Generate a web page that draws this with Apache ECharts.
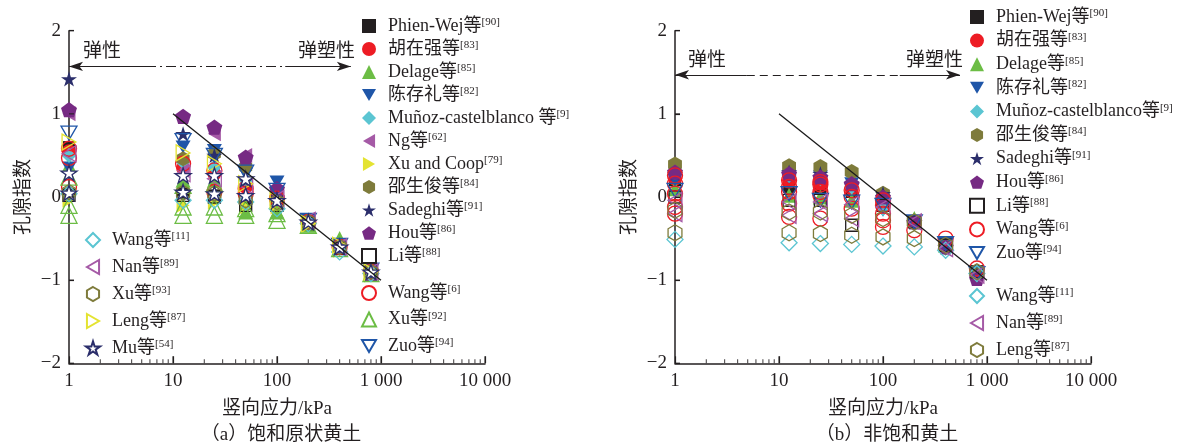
<!DOCTYPE html>
<html><head><meta charset="utf-8">
<script src="https://cdn.jsdelivr.net/npm/echarts@6/dist/echarts.min.js"></script>
<style>html,body{margin:0;padding:0;background:#fff}#c{width:1188px;height:444px}</style>
</head><body><div id="c"></div><script>
// ---------- data: panel (a) 饱和原状黄土 ----------
const phienA = [[1,0.6],[12.5,0.05],[25,0.02],[50,-0.08],[100,-0.08],[200,-0.32],[400,-0.62],[800,-0.92]];
const huA = [[1,0.55],[12.5,0.35],[25,0.28],[50,0.12],[100,-0.02],[200,-0.3],[400,-0.6],[800,-0.9]];
const delageA = [[1,0.38],[12.5,0.2],[25,0.2],[50,-0.18],[100,-0.18],[200,-0.34],[400,-0.5],[800,-0.9]];
const chenA = [[1,0.35],[12.5,0.6],[25,0.56],[50,0.28],[100,0.18],[200,-0.28],[400,-0.58],[800,-0.88]];
const munozA = [[1,0.5],[12.5,0.42],[25,0.36],[50,0.2],[100,0.0],[200,-0.3],[400,-0.62],[800,-0.9]];
const ngA = [[1,1.0],[12.5,0.32],[25,0.76],[50,0.5],[100,0.06],[200,-0.3],[400,-0.58],[800,-0.92]];
const xuCoopA = [[1,-0.04],[12.5,-0.1],[25,-0.06],[50,-0.12],[100,-0.12],[200,-0.34],[400,-0.64],[800,-0.94]];
const shaoA = [[1,0.05],[12.5,0.46],[25,0.52],[50,0.36],[100,0.05],[200,-0.3],[400,-0.6],[800,-0.9]];
const sadeghiA = [[1,1.42],[12.5,0.76],[25,0.5],[50,0.2],[100,0.0],[200,-0.3],[400,-0.6],[800,-0.9]];
const houA = [[1,1.05],[12.5,0.97],[25,0.84],[50,0.48],[100,0.1],[200,-0.3],[400,-0.6],[800,-0.92]];
const liA = [[1,0.02],[12.5,0.02],[25,0.0],[50,-0.1],[100,-0.1],[200,-0.32],[400,-0.62],[800,-0.9]];
const wang6A = [[1,0.58],[1,0.47],[1,0.12],[12.5,0.4],[25,0.32],[25,0.06],[50,0.1],[50,0.04],[100,-0.02],[200,-0.3],[400,-0.6],[800,-0.9]];
const xu92A = [[1,0.24],[1,-0.1],[1,-0.22],[12.5,0.14],[12.5,-0.12],[12.5,-0.22],[25,0.16],[25,-0.12],[25,-0.22],[50,-0.14],[50,-0.22],[100,-0.2],[100,-0.28],[200,-0.34],[400,-0.62],[800,-0.92]];
const zuoA = [[1,0.77],[12.5,0.68],[25,0.5],[50,0.3],[100,0.08],[200,-0.28],[400,-0.58],[800,-0.88]];
const wang11A = [[1,0.04],[12.5,-0.04],[25,-0.04],[50,-0.06],[100,-0.14],[200,-0.32],[400,-0.66],[800,-0.92]];
const nanA = [[1,0.52],[12.5,0.28],[25,0.22],[50,0.14],[100,-0.02],[200,-0.28],[400,-0.6],[800,-0.9]];
const xu93A = [[1,0.06],[12.5,0.05],[25,0.04],[50,-0.04],[100,-0.06],[200,-0.3],[400,-0.6],[800,-0.9]];
const lengA = [[1,0.66],[12.5,0.53],[25,0.4],[50,0.16],[100,-0.04],[200,-0.32],[400,-0.58],[800,-0.9]];
const muA = [[1,0.29],[1,0.05],[12.5,0.26],[12.5,0.06],[25,0.26],[25,0.04],[50,0.22],[50,0.02],[100,-0.04],[200,-0.3],[400,-0.6],[800,-0.9]];

// ---------- data: panel (b) 非饱和黄土 ----------
const phienB = [[1,0.2],[12.5,0.12],[25,0.1],[50,0.06],[100,-0.06],[200,-0.3],[400,-0.6],[800,-0.92]];
const huB = [[1,0.22],[12.5,0.2],[25,0.16],[50,0.1],[100,-0.04],[200,-0.3],[400,-0.6],[800,-0.9]];
const delageB = [[1,0.1],[12.5,0.02],[25,0.0],[50,-0.04],[100,-0.08],[200,-0.26],[400,-0.58],[800,-0.9]];
const chenB = [[1,0.2],[12.5,0.24],[25,0.24],[50,0.16],[100,-0.16],[200,-0.3],[400,-0.56],[800,-0.9]];
const munozB = [[1,0.3],[12.5,0.26],[25,0.22],[50,0.12],[100,-0.14],[200,-0.32],[400,-0.62],[800,-0.94]];
const shaoB = [[1,0.39],[12.5,0.37],[25,0.36],[50,0.3],[100,0.04],[200,-0.3],[400,-0.6],[800,-0.92]];
const sadeghiB = [[1,0.28],[12.5,0.3],[25,0.28],[50,0.14],[100,0.04],[200,-0.3],[400,-0.6],[800,-0.94]];
const houB = [[1,0.3],[12.5,0.28],[25,0.24],[50,0.16],[100,0.0],[200,-0.3],[400,-0.6],[800,-0.98]];
const liB = [[1,0.0],[12.5,-0.04],[25,-0.04],[50,-0.34],[100,-0.1],[200,-0.3],[400,-0.58],[800,-0.9]];
const wang6B = [[1,0.26],[1,0.16],[1,0.04],[1,-0.12],[1,-0.2],[12.5,0.2],[12.5,0.12],[12.5,0.06],[12.5,-0.08],[12.5,-0.24],[25,0.18],[25,0.15],[25,0.06],[25,0.02],[25,-0.26],[50,0.08],[50,0.0],[50,-0.14],[100,-0.04],[100,-0.1],[100,-0.2],[100,-0.28],[100,-0.36],[200,-0.4],[400,-0.5],[800,-0.86]];
const zuoB = [[1,0.08],[12.5,0.04],[25,-0.04],[50,-0.06],[100,-0.1],[200,-0.3],[400,-0.56],[800,-0.92]];
const wang11B = [[1,-0.51],[12.5,-0.55],[25,-0.56],[50,-0.57],[100,-0.59],[200,-0.6],[400,-0.64],[800,-0.92]];
const nanB = [[1,-0.04],[1,-0.2],[12.5,-0.06],[12.5,-0.22],[25,-0.06],[25,-0.2],[50,-0.09],[50,-0.26],[100,-0.12],[200,-0.3],[400,-0.62],[800,-0.94]];
const lengB = [[1,-0.16],[1,-0.43],[12.5,-0.18],[12.5,-0.43],[25,-0.18],[25,-0.44],[50,-0.22],[50,-0.46],[100,-0.26],[100,-0.48],[200,-0.3],[200,-0.5],[400,-0.58],[800,-0.9]];

// trend line and annotation levels
const trendX = [10, 1000];
const trendY = [1, -1];
const arrowYA = 1.57, arrowYB = 1.47;
const arrowA = [1, 5.5, 120, 513];   // solid | dash-dot | solid
const arrowB = [1, 4.9, 145, 550];   // solid | dashed | solid

// axis ticks
const xTickLabels = {1:'1',10:'10',100:'100',1000:'1 000',10000:'10 000'};
const xMajorTicks = [10, 100, 1000, 10000];
const xMinorTicks = [2,3,4,5,6,7,8,9,20,30,40,50,60,70,80,90,200,300,400,500,600,700,800,900,2000,3000,4000,5000,6000,7000,8000,9000];
const yTicks = [-2,-1,0,1,2];

// ---------- styles ----------
const FONT = "'Liberation Serif','Times New Roman','Noto Sans CJK SC',serif";
const TXT = '#231f20';
const SYM = {
  square:'rect',
  circle:'circle',
  tri:'triangle',
  invTri:'path://M0,0L100,0L50,86.6Z',
  diamond:'diamond',
  leftTri:'path://M0,50L86.6,0L86.6,100Z',
  rightTri:'path://M0,0L86.6,50L0,100Z',
  hex:'path://M50,0L93.3,25L93.3,75L50,100L6.7,75L6.7,25Z',
  star:'path://M50,0L61.17,34.63L97.55,34.55L68.07,55.87L79.39,90.45L50,69L20.61,90.45L31.93,55.87L2.45,34.55L38.83,34.63Z',
  pent:'path://M50,0L97.55,34.55L79.39,90.45L20.61,90.45L2.45,34.55Z'
};
const C = {black:'#231f20',red:'#ed1c24',green:'#6cbd45',blue:'#1f56a8',cyan:'#5bc5d2',pink:'#a55aa6',yellow:'#e4e331',olive:'#7e7b3b',navy:'#2b2e6b',purple:'#762a83'};

const specsA = [
  ['a|Phien-Wej等|90', phienA, 'square', C.black, 1, 12],
  ['a|胡在强等|83', huA, 'circle', C.red, 1, 14],
  ['a|Delage等|85', delageA, 'tri', C.green, 1, 15],
  ['a|陈存礼等|82', chenA, 'invTri', C.blue, 1, 15],
  ['a|Muñoz-castelblanco 等|9', munozA, 'diamond', C.cyan, 1, 15],
  ['a|Ng等|62', ngA, 'leftTri', C.pink, 1, 15],
  ['a|Xu and Coop|79', xuCoopA, 'rightTri', C.yellow, 1, 15],
  ['a|邵生俊等|84', shaoA, 'hex', C.olive, 1, 15],
  ['a|Sadeghi等|91', sadeghiA, 'star', C.navy, 1, 16],
  ['a|Hou等|86', houA, 'pent', C.purple, 1, 16],
  ['a|Li等|88', liA, 'square', C.black, 0, 12],
  ['a|Wang等|6', wang6A, 'circle', C.red, 0, 15],
  ['a|Xu等|92', xu92A, 'tri', C.green, 0, 16],
  ['a|Zuo等|94', zuoA, 'invTri', C.blue, 0, 16],
  ['a|Wang等|11', wang11A, 'diamond', C.cyan, 0, 16],
  ['a|Nan等|89', nanA, 'leftTri', C.pink, 0, 16],
  ['a|Xu等|93', xu93A, 'hex', C.olive, 0, 15],
  ['a|Leng等|87', lengA, 'rightTri', C.yellow, 0, 16],
  ['a|Mu等|54', muA, 'star', C.navy, 2, 16]
];
const specsB = [
  ['b|Phien-Wej等|90', phienB, 'square', C.black, 1, 12],
  ['b|胡在强等|83', huB, 'circle', C.red, 1, 14],
  ['b|Delage等|85', delageB, 'tri', C.green, 1, 15],
  ['b|陈存礼等|82', chenB, 'invTri', C.blue, 1, 15],
  ['b|Muñoz-castelblanco等|9', munozB, 'diamond', C.cyan, 1, 15],
  ['b|邵生俊等|84', shaoB, 'hex', C.olive, 1, 16],
  ['b|Sadeghi等|91', sadeghiB, 'star', C.navy, 1, 16],
  ['b|Hou等|86', houB, 'pent', C.purple, 1, 16],
  ['b|Li等|88', liB, 'square', C.black, 0, 12],
  ['b|Wang等|6', wang6B, 'circle', C.red, 0, 15],
  ['b|Zuo等|94', zuoB, 'invTri', C.blue, 0, 16],
  ['b|Wang等|11', wang11B, 'diamond', C.cyan, 0, 16],
  ['b|Nan等|89', nanB, 'leftTri', C.pink, 0, 16],
  ['b|Leng等|87', lengB, 'hex', C.olive, 0, 16]
];

function mkSeries(spec, axis) {
  const [name, data, sym, color, fill, size] = spec;
  const itemStyle = fill === 1 ? {color: color, opacity: 1}
    : {color: fill === 2 ? '#ffffff' : 'rgba(255,255,255,0)', borderColor: color, borderWidth: 1.3, opacity: 1};
  return {
    type: 'scatter', name: name, data: data, xAxisIndex: axis, yAxisIndex: axis,
    symbol: SYM[sym], symbolSize: size, symbolKeepAspect: true,
    itemStyle: itemStyle, silent: true, animation: false, z: 3
  };
}

// tick marks drawn as thin rect symbols placed through the axes' scales
function tickSeries(axis) {
  const base = {type: 'scatter', xAxisIndex: axis, yAxisIndex: axis, symbol: 'rect', silent: true,
    animation: false, clip: false, z: 4, itemStyle: {color: TXT}};
  return [
    Object.assign({}, base, {data: xMinorTicks.map(v => [v, -2]), symbolSize: [1.1, 4], symbolOffset: [0, -2]}),
    Object.assign({}, base, {data: xMajorTicks.map(v => [v, -2]), symbolSize: [1.3, 7], symbolOffset: [0, -3.5]}),
    Object.assign({}, base, {data: yTicks.map(v => [1, v]), symbolSize: [5, 1.3], symbolOffset: [2.5, 0]})
  ];
}

function arrowMark(pts, y, midType) {
  const solid = {type: 'solid', color: TXT, width: 1.2};
  const mid = {type: midType, color: TXT, width: 1.2};
  return {
    silent: true, symbol: ['none','none'], label: {show: false}, animation: false,
    data: [
      [{coord: [pts[0], y], symbol: 'arrow', symbolSize: [7, 14], lineStyle: solid}, {coord: [pts[1], y], symbol: 'none'}],
      [{coord: [pts[1], y], symbol: 'none', lineStyle: mid}, {coord: [pts[2], y], symbol: 'none'}],
      [{coord: [pts[2], y], symbol: 'none', lineStyle: solid}, {coord: [pts[3], y], symbol: 'arrow', symbolSize: [7, 14]}]
    ]
  };
}

function trendSeries(axis, mark) {
  return {
    type: 'line', data: trendX.map((x, i) => [x, trendY[i]]), xAxisIndex: axis, yAxisIndex: axis,
    showSymbol: false, symbol: 'none', silent: true, animation: false, z: 5,
    lineStyle: {color: '#1a1a1a', width: 1.3}, markLine: mark
  };
}

const axisLineStyle = {show: true, onZero: false, lineStyle: {color: TXT, width: 1.5}};
function xMain(grid) {
  return {
    type: 'log', logBase: 10, min: 1, max: 10000, gridIndex: grid, position: 'bottom',
    axisLine: axisLineStyle,
    axisTick: {show: true, inside: true, length: 7, lineStyle: {color: TXT, width: 1.2}},
    axisLabel: {color: TXT, fontFamily: FONT, fontSize: 19, margin: 8, formatter: v => xTickLabels[v] || ''},
    splitLine: {show: false},
    name: '竖向应力/kPa', nameLocation: 'middle', nameGap: 36,
    nameTextStyle: {color: TXT, fontFamily: FONT, fontSize: 19}
  };
}
function yMain(grid) {
  return {
    type: 'value', min: -2, max: 2, interval: 1, gridIndex: grid,
    axisLine: axisLineStyle,
    axisTick: {show: true, inside: true, length: 5, lineStyle: {color: TXT, width: 1.2}},
    axisLabel: {color: TXT, fontFamily: FONT, fontSize: 19, margin: 8,
      formatter: v => yTicks.includes(v) ? (v < 0 ? '\u2212' + Math.abs(v) : String(v)) : ''},
    splitLine: {show: false},
    name: '孔隙指数', nameLocation: 'middle', nameGap: 35,
    nameTextStyle: {color: TXT, fontFamily: FONT, fontSize: 19}
  };
}

const richStyle = {
  m: {fontFamily: FONT, fontSize: 18, color: TXT, lineHeight: 18},
  s: {fontFamily: FONT, fontSize: 11, color: TXT, verticalAlign: 'top', lineHeight: 12}
};
function fmt(name) {
  const p = name.split('|');
  return '{m|' + p[1] + '}{s|[' + p[2] + ']}';
}
function mkLegend(names, center, top, gap) {
  return {
    data: names, orient: 'vertical', left: center - 7, top: top, itemGap: gap, padding: 0,
    itemWidth: 14, itemHeight: 14, selectedMode: false, formatter: fmt,
    textStyle: {fontFamily: FONT, fontSize: 18, color: TXT, rich: richStyle, padding: [0, 0, 0, 7]}
  };
}

const namesA = specsA.map(s => s[0]);
const namesB = specsB.map(s => s[0]);

const option = {
  animation: false,
  backgroundColor: '#ffffff',
  grid: [
    {left: 69, top: 30.7, width: 416, height: 332.6},
    {left: 675, top: 30.7, width: 416, height: 332.6}
  ],
  xAxis: [xMain(0), xMain(1)],
  yAxis: [yMain(0), yMain(1)],
  legend: [
    mkLegend(namesA.slice(0, 11), 368, 17, 5),
    mkLegend(namesA.slice(11, 14), 368, 284, 8.5),
    mkLegend(namesA.slice(14), 92, 231, 9),
    mkLegend(namesB.slice(0, 11), 976, 8, 5.6),
    mkLegend(namesB.slice(11), 976, 287, 9)
  ],
  series: [
    trendSeries(0, arrowMark(arrowA, arrowYA, [10, 4, 2, 4])),
    trendSeries(1, arrowMark(arrowB, arrowYB, [8, 5]))
  ].concat(tickSeries(0), tickSeries(1))
   .concat(specsA.map(s => mkSeries(s, 0))).concat(specsB.map(s => mkSeries(s, 1))),
  graphic: [
    {type: 'text', x: 83, y: 52, style: {text: '弹性', font: "19px " + FONT, fill: TXT, textVerticalAlign: 'middle'}},
    {type: 'text', x: 298, y: 52, style: {text: '弹塑性', font: "19px " + FONT, fill: TXT, textVerticalAlign: 'middle'}},
    {type: 'text', x: 688, y: 61, style: {text: '弹性', font: "19px " + FONT, fill: TXT, textVerticalAlign: 'middle'}},
    {type: 'text', x: 906, y: 61, style: {text: '弹塑性', font: "19px " + FONT, fill: TXT, textVerticalAlign: 'middle'}},
    {type: 'text', x: 281, y: 435, style: {text: '（a）饱和原状黄土', font: "19px " + FONT, fill: TXT, textAlign: 'center', textVerticalAlign: 'middle'}},
    {type: 'text', x: 887, y: 435, style: {text: '（b）非饱和黄土', font: "19px " + FONT, fill: TXT, textAlign: 'center', textVerticalAlign: 'middle'}}
  ]
};

const chart = echarts.init(document.getElementById('c'), null, {renderer: 'canvas'});
chart.setOption(option);
</script></body></html>
